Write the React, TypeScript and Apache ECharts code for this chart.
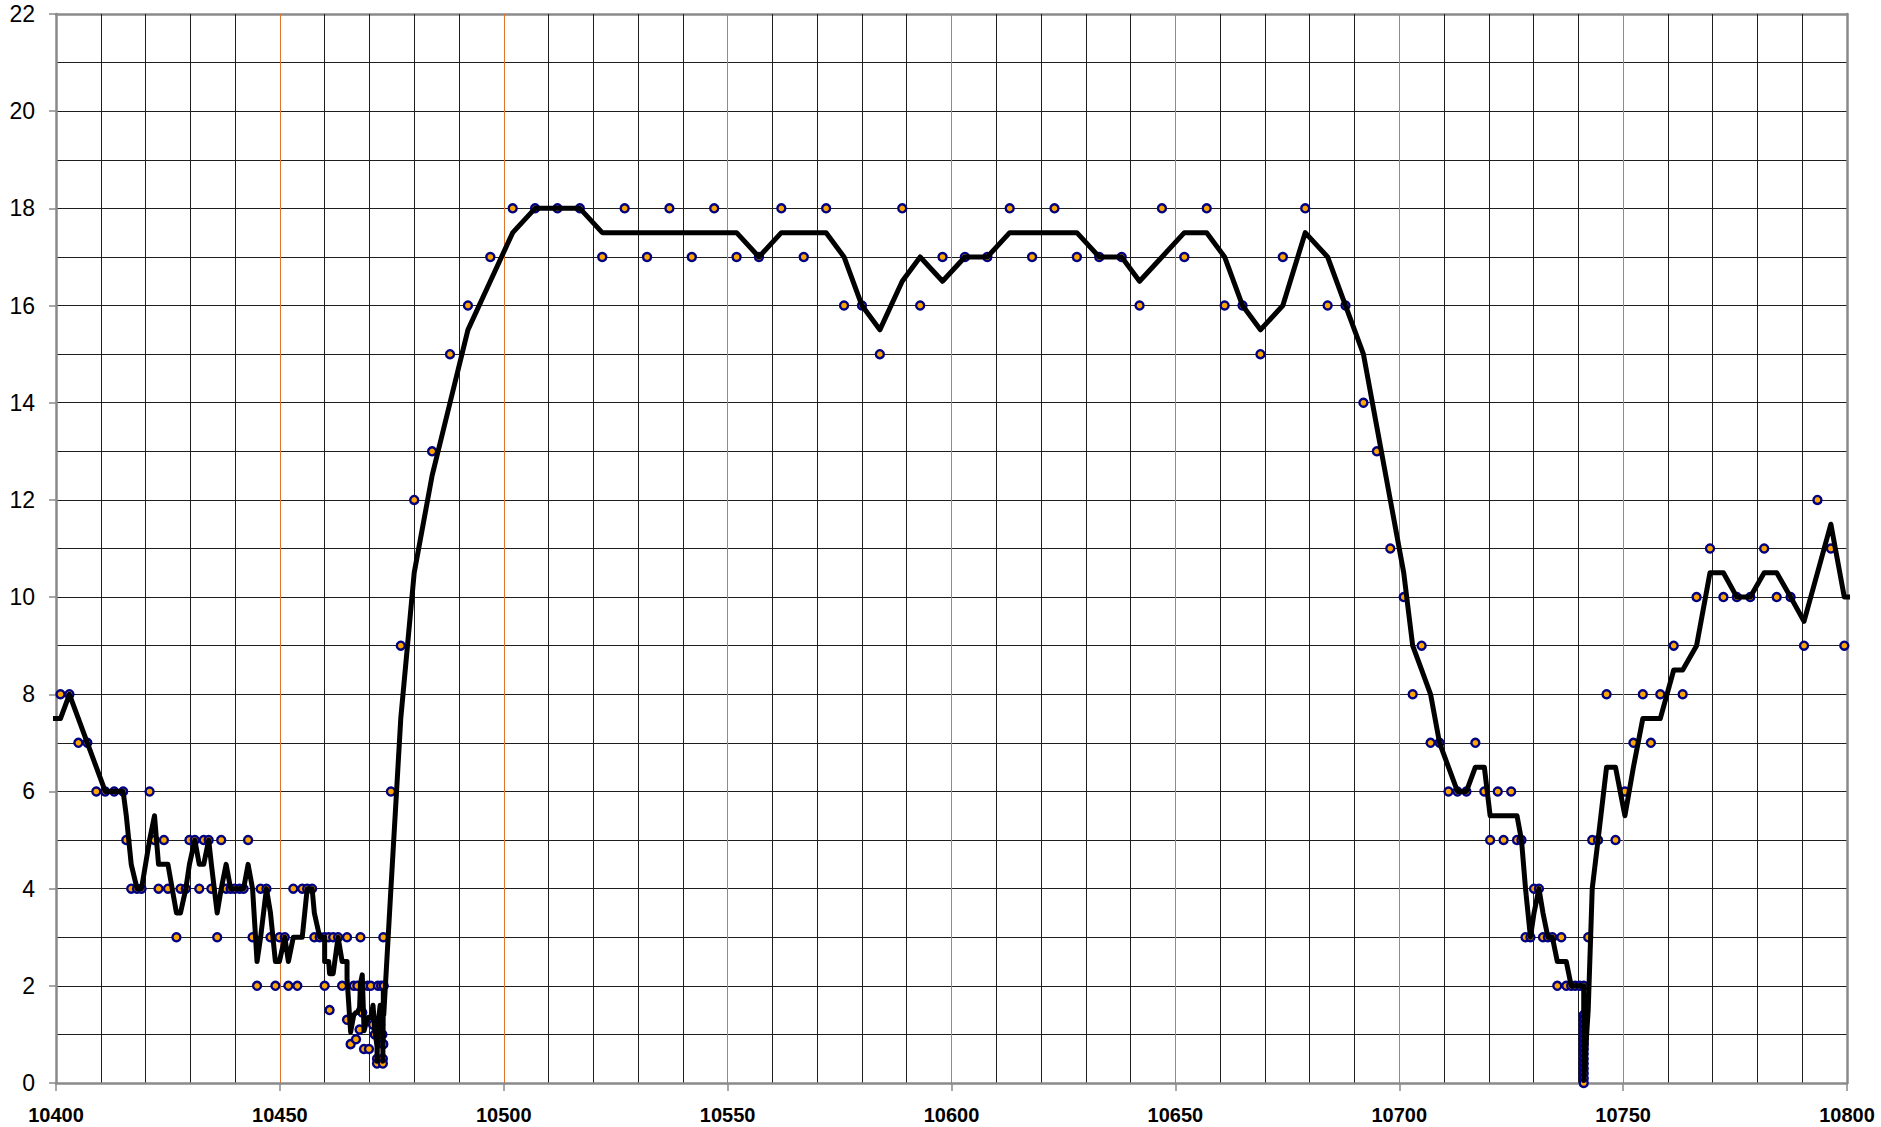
import React, { useEffect, useRef } from "react";
import * as echarts from "echarts";

// Measured points (x, y). First two and last lie just outside the visible x-range.
const pointX = [
  10398, 10399, 10401, 10403, 10405, 10407, 10409, 10411, 10413, 10415,
  10415.7, 10416.8, 10418.1, 10419.1, 10420.9, 10422, 10422.9, 10424.1, 10425, 10426.9,
  10427.8, 10429, 10429.8, 10431, 10432, 10433, 10434.1, 10434.7, 10436, 10436.9,
  10438, 10439, 10439.9, 10441, 10441.9, 10442.9, 10443.9, 10444.9, 10445.7, 10447,
  10447.9, 10449, 10449.9, 10451.1, 10451.9, 10453, 10453.9, 10455, 10456.1, 10457.2,
  10457.7, 10458.9, 10460, 10460, 10460.9, 10461.1, 10461.9, 10463, 10463.9, 10465,
  10465, 10465.8, 10466.5, 10467, 10467.3, 10467.8, 10468, 10468.4, 10468.8, 10469.6,
  10469.9, 10470.3, 10470.8, 10471.2, 10471.7, 10471.7, 10471.9, 10472.4, 10472.6, 10472.9,
  10473, 10473, 10473.1, 10473.1, 10473.2,
  10474.8, 10477, 10480, 10484, 10488, 10492, 10497, 10502, 10507, 10512,
  10517, 10522, 10527, 10532, 10537, 10542, 10547, 10552, 10557, 10562,
  10567, 10572, 10576, 10580, 10584, 10589, 10593, 10598, 10603, 10608,
  10613, 10618, 10623, 10628, 10633, 10638, 10642, 10647, 10652, 10657,
  10661, 10665, 10669, 10674, 10679, 10684, 10688, 10692, 10695, 10698,
  10701, 10703, 10705, 10707, 10709, 10711, 10713, 10715, 10717, 10719,
  10720.3, 10722, 10723.3, 10725, 10726.3, 10727.3, 10728.2, 10729.3, 10730.1, 10731.2,
  10732.1, 10733.2, 10734.2, 10735.3, 10736.2, 10737.3, 10738.4, 10739.3, 10740.3, 10741.2,
  10741.2, 10741.2, 10741.2, 10741.2, 10741.2, 10741.2, 10741.2, 10741.2, 10741.2, 10741.2,
  10741.2, 10741.2, 10741.2, 10741.2, 10741.2,
  10742.2, 10743.1, 10744.4, 10746.3, 10748.3, 10750.4, 10752.3, 10754.4, 10756.2, 10758.3,
  10761.3, 10763.3, 10766.4, 10769.4, 10772.4, 10775.4, 10778.4, 10781.5, 10784.3, 10787.4,
  10790.4, 10793.4, 10796.4, 10799.4, 10801,
];

const pointY = [
  8, 7, 8, 8, 7, 7, 6, 6, 6, 6,
  5, 4, 4, 4, 6, 5, 4, 5, 4, 3,
  4, 4, 5, 5, 4, 5, 5, 4, 3, 5,
  4, 4, 4, 4, 4, 5, 3, 2, 4, 4,
  3, 2, 3, 3, 2, 4, 2, 4, 4, 4,
  3, 3, 3, 2, 3, 1.5, 3, 3, 2, 3,
  1.3, 0.8, 2, 0.9, 2, 1.1, 3, 1.45, 0.7, 2,
  0.7, 2, 1.2, 1, 0.5, 0.4, 2, 1.2, 2, 1,
  0.5, 0.4, 3, 0.8, 2,
  6, 9, 12, 13, 15, 16, 17, 18, 18, 18,
  18, 17, 18, 17, 18, 17, 18, 17, 17, 18,
  17, 18, 16, 16, 15, 18, 16, 17, 17, 17,
  18, 17, 18, 17, 17, 17, 16, 18, 17, 18,
  16, 16, 15, 17, 18, 16, 16, 14, 13, 11,
  10, 8, 9, 7, 7, 6, 6, 6, 7, 6,
  5, 6, 5, 6, 5, 5, 3, 3, 4, 4,
  3, 3, 3, 2, 3, 2, 2, 2, 2, 2,
  1.4, 1.3, 1.2, 1.1, 1.0, 0.9, 0.8, 0.7, 0.6, 0.5,
  0.4, 0.3, 0.2, 0.1, 0,
  3, 5, 5, 8, 5, 6, 7, 8, 7, 8,
  9, 8, 10, 11, 10, 10, 10, 11, 10, 10,
  9, 12, 11, 9, 11,
];

const X_MIN = 10400;
const X_MAX = 10800;
const X_LABEL_STEP = 50;
const X_GRID_PER_LABEL = 5;
const Y_MIN = 0;
const Y_MAX = 22;
const Y_LABEL_STEP = 2;

// 2-period moving-average trendline of the measured points (as drawn in the source chart)
function movingAverage2(xs: number[], ys: number[]) {
  const out: number[][] = [];
  for (let i = 1; i < xs.length; i++) out.push([xs[i], (ys[i] + ys[i - 1]) / 2]);
  return out;
}

const FONT = "'Liberation Sans', Arial, sans-serif";
const GRID_DARK = "#1e1e1e";
const GRID_ORANGE = "#e2742a";
const BORDER = "#8a8a8a";

export default function App() {
  const ref = useRef<HTMLDivElement>(null);
  useEffect(() => {
    if (!ref.current) return;
    const chart = echarts.init(ref.current, undefined, { renderer: "svg" });
    const points = pointX.map((x, i) => [x, pointY[i]]);
    const trend = movingAverage2(pointX, pointY);
    const nMajor = (X_MAX - X_MIN) / X_LABEL_STEP + 1;
    const xSplitColors = Array.from({ length: nMajor }, (_, i) =>
      i === 0 || i === nMajor - 1 ? BORDER : GRID_ORANGE
    );
    chart.setOption({
      animation: false,
      backgroundColor: "#ffffff",
      grid: { left: 56, right: 34, top: 14, bottom: 44, containLabel: false },
      xAxis: [
        {
          type: "value",
          min: X_MIN,
          max: X_MAX,
          interval: X_LABEL_STEP,
          position: "bottom",
          axisLine: { show: true, onZero: false, lineStyle: { color: BORDER, width: 2.5 } },
          axisTick: { show: true, length: 8, lineStyle: { color: BORDER, width: 1.5 } },
          axisLabel: {
            fontFamily: FONT,
            fontWeight: "bold",
            fontSize: 20,
            color: "#000",
            margin: 22,
            formatter: (v: number) => String(v),
          },
          splitLine: { show: true, lineStyle: { color: xSplitColors, width: 1 } },
          minorTick: { show: false, splitNumber: X_GRID_PER_LABEL },
          minorSplitLine: { show: true, lineStyle: { color: GRID_DARK, width: 1 } },
          z: 1,
        },
        {
          type: "value",
          min: X_MIN,
          max: X_MAX,
          position: "top",
          axisLine: { show: true, onZero: false, lineStyle: { color: BORDER, width: 2.5 } },
          axisTick: { show: false },
          axisLabel: { show: false },
          splitLine: { show: false },
        },
      ],
      yAxis: [
        {
          type: "value",
          min: Y_MIN,
          max: Y_MAX,
          interval: Y_LABEL_STEP,
          position: "left",
          axisLine: { show: true, onZero: false, lineStyle: { color: BORDER, width: 2.5 } },
          axisTick: { show: true, length: 7, lineStyle: { color: BORDER, width: 1.5 } },
          axisLabel: { fontFamily: FONT, fontSize: 23, color: "#000", margin: 21 },
          splitLine: { show: true, lineStyle: { color: GRID_DARK, width: 1 } },
          minorTick: { show: false, splitNumber: 2 },
          minorSplitLine: { show: true, lineStyle: { color: GRID_DARK, width: 1 } },
        },
        {
          type: "value",
          min: Y_MIN,
          max: Y_MAX,
          position: "right",
          axisLine: { show: true, onZero: false, lineStyle: { color: BORDER, width: 2.5 } },
          axisTick: { show: false },
          axisLabel: { show: false },
          splitLine: { show: false },
        },
      ],
      series: [
        {
          type: "scatter",
          data: points,
          symbol: "circle",
          symbolSize: 8,
          clip: true,
          itemStyle: { color: "#ffa500", borderColor: "#000080", borderWidth: 2.4, opacity: 1 },
          z: 3,
        },
        {
          type: "line",
          data: trend,
          showSymbol: false,
          symbol: "none",
          clip: true,
          lineStyle: { color: "#000000", width: 5, join: "round" },
          z: 4,
        },
      ],
    });
    return () => chart.dispose();
  }, []);
  return (
    <div
      ref={ref}
      style={{ position: "fixed", left: 0, top: 0, width: 1881, height: 1127, background: "#fff" }}
    />
  );
}
